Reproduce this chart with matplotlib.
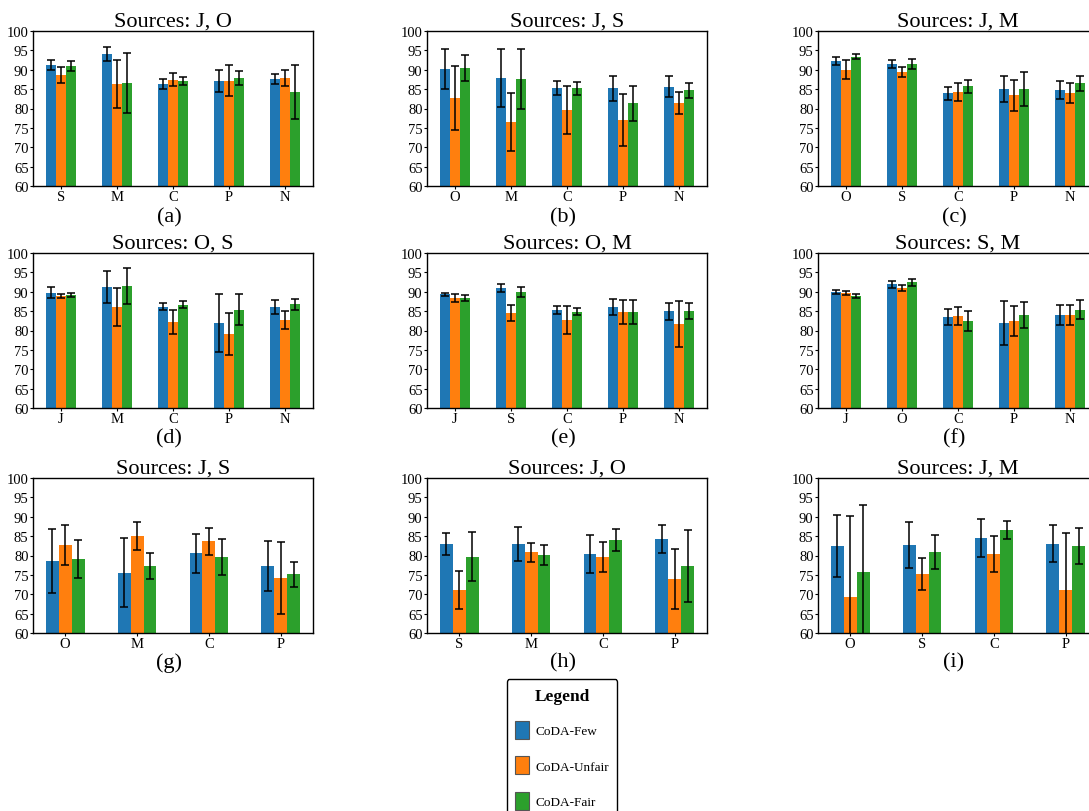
import matplotlib
matplotlib.use("Agg")
import matplotlib.pyplot as plt
import matplotlib.patches as mpatches
import numpy as np

plt.rcParams['font.family'] = ['Liberation Serif', 'DejaVu Serif']

# ---------------- data ----------------
panel_labels = ["(a)", "(b)", "(c)", "(d)", "(e)", "(f)", "(g)", "(h)", "(i)"]
titles = ["Sources: J, O", "Sources: J, S", "Sources: J, M",
          "Sources: O, S", "Sources: O, M", "Sources: S, M",
          "Sources: J, S", "Sources: J, O", "Sources: J, M"]
categories = [["S", "M", "C", "P", "N"],
              ["O", "M", "C", "P", "N"],
              ["O", "S", "C", "P", "N"],
              ["J", "M", "C", "P", "N"],
              ["J", "S", "C", "P", "N"],
              ["J", "O", "C", "P", "N"],
              ["O", "M", "C", "P"],
              ["S", "M", "C", "P"],
              ["O", "S", "C", "P"]]

series_names = ["CoDA-Few", "CoDA-Unfair", "CoDA-Fair"]
series_colors = ["#1f77b4", "#ff7f0e", "#2ca02c"]

few = [[91.3, 94.1, 86.4, 87.1, 87.6],
       [90.2, 87.9, 85.3, 85.2, 85.6],
       [92.3, 91.5, 83.9, 85.0, 84.8],
       [89.7, 91.2, 86.1, 81.9, 86.1],
       [89.3, 91.0, 85.3, 86.1, 85.0],
       [89.9, 91.9, 83.4, 81.9, 84.0],
       [78.6, 75.5, 80.6, 77.3],
       [83.0, 83.0, 80.4, 84.3],
       [82.4, 82.7, 84.5, 83.0]]
few_err = [[1.25, 1.9, 1.3, 2.8, 1.35],
           [5.2, 7.5, 1.85, 3.3, 2.7],
           [1.1, 0.95, 1.75, 3.3, 2.25],
           [1.4, 4.2, 0.9, 7.4, 1.8],
           [0.45, 1.0, 0.95, 2.0, 2.2],
           [0.5, 0.9, 2.1, 5.7, 2.5],
           [8.2, 8.9, 5.05, 6.4],
           [2.85, 4.3, 4.85, 3.55],
           [8.0, 5.9, 4.95, 4.75]]

unfair = [[88.7, 86.4, 87.4, 87.1, 87.9],
          [82.7, 76.5, 79.6, 77.0, 81.4],
          [90.0, 89.5, 84.2, 83.4, 84.0],
          [88.9, 86.1, 82.2, 79.1, 82.7],
          [88.4, 84.5, 82.7, 84.8, 81.7],
          [89.7, 90.9, 83.7, 82.4, 84.0],
          [82.7, 85.0, 83.7, 74.2],
          [71.1, 80.9, 79.6, 73.9],
          [69.3, 75.2, 80.4, 71.1]]
unfair_err = [[2.05, 6.15, 1.7, 4.0, 2.15],
              [8.3, 7.5, 6.1, 6.7, 2.8],
              [2.5, 1.3, 2.3, 4.0, 2.7],
              [0.45, 4.9, 3.2, 5.5, 2.35],
              [0.95, 2.05, 3.6, 3.05, 5.9],
              [0.55, 0.8, 2.25, 3.85, 2.65],
              [5.2, 3.55, 3.45, 9.3],
              [4.95, 2.45, 3.8, 7.8],
              [21.0, 4.05, 4.6, 14.8]]

fair = [[91.0, 86.6, 87.1, 87.9, 84.3],
        [90.5, 87.6, 85.2, 81.4, 84.7],
        [93.35, 91.5, 85.7, 85.0, 86.5],
        [89.2, 91.5, 86.6, 85.3, 86.8],
        [88.4, 89.9, 84.8, 84.8, 85.0],
        [88.9, 92.5, 82.45, 84.0, 85.3],
        [79.1, 77.3, 79.6, 75.2],
        [79.7, 80.1, 84.0, 77.3],
        [75.8, 80.9, 86.6, 82.45]]
fair_err = [[1.25, 7.65, 1.0, 1.85, 7.0],
            [3.4, 7.7, 1.7, 4.5, 2.0],
            [0.65, 1.2, 1.6, 4.35, 1.9],
            [0.6, 4.7, 0.9, 4.0, 1.4],
            [0.85, 1.25, 0.9, 3.0, 2.1],
            [0.55, 0.9, 2.7, 3.35, 2.45],
            [5.0, 3.3, 4.6, 3.25],
            [6.4, 2.65, 2.9, 9.3],
            [17.3, 4.5, 2.4, 4.7]]

y_ticks = [60, 65, 70, 75, 80, 85, 90, 95, 100]

# ---------------- layout ----------------
W, H = 1089, 812
fig = plt.figure(figsize=(W / 100, H / 100), dpi=100)

col_left = [33, 427, 818]
ax_w = 280
row_top = [32, 254, 479]
ax_h = 155
label_y = [218, 439, 663]

bar_w = 0.18
for k in range(9):
    r, c = divmod(k, 3)
    left = col_left[c]
    top = row_top[r]
    ax = fig.add_axes([left / W, 1 - (top + ax_h) / H, ax_w / W, ax_h / H])
    cats = categories[k]
    x = np.arange(len(cats))
    data = [(few[k], few_err[k]), (unfair[k], unfair_err[k]), (fair[k], fair_err[k])]
    for j, (vals, errs) in enumerate(data):
        ax.bar(x + (j - 1) * bar_w, vals, bar_w, yerr=errs, color=series_colors[j],
               capsize=3.2, error_kw=dict(elinewidth=1.1, ecolor='black', capthick=1.1),
               label=series_names[j])
    ax.set_ylim(60, 100)
    ax.set_yticks(y_ticks)
    ax.set_xticks(x)
    ax.set_xticklabels(cats)
    ax.tick_params(axis='both', labelsize=10.5, length=2, pad=1.2, width=0.8)
    for s in ax.spines.values():
        s.set_linewidth(1.0)
    ax.set_title(titles[k], fontsize=16, pad=3)
    fig.text((left + ax_w / 2 - 4) / W, 1 - label_y[r] / H, panel_labels[k],
             fontsize=16, ha='center', va='center')

handles = [mpatches.Patch(facecolor=series_colors[j], edgecolor='#555555', linewidth=0.8,
                          label=series_names[j]) for j in range(3)]
leg = fig.legend(handles=handles, loc='upper center',
                 bbox_to_anchor=(562 / W, 1 - 680 / H), borderaxespad=0,
                 title='Legend', title_fontproperties={'weight': 'bold', 'size': 12.5},
                 fontsize=9.5, handlelength=1.06, handleheight=1.75,
                 labelspacing=1.3, handletextpad=0.45, borderpad=0.65,
                 frameon=True, fancybox=True, edgecolor='black', framealpha=1)
leg.get_frame().set_linewidth(1.0)

fig.savefig("out.png", dpi=100)
